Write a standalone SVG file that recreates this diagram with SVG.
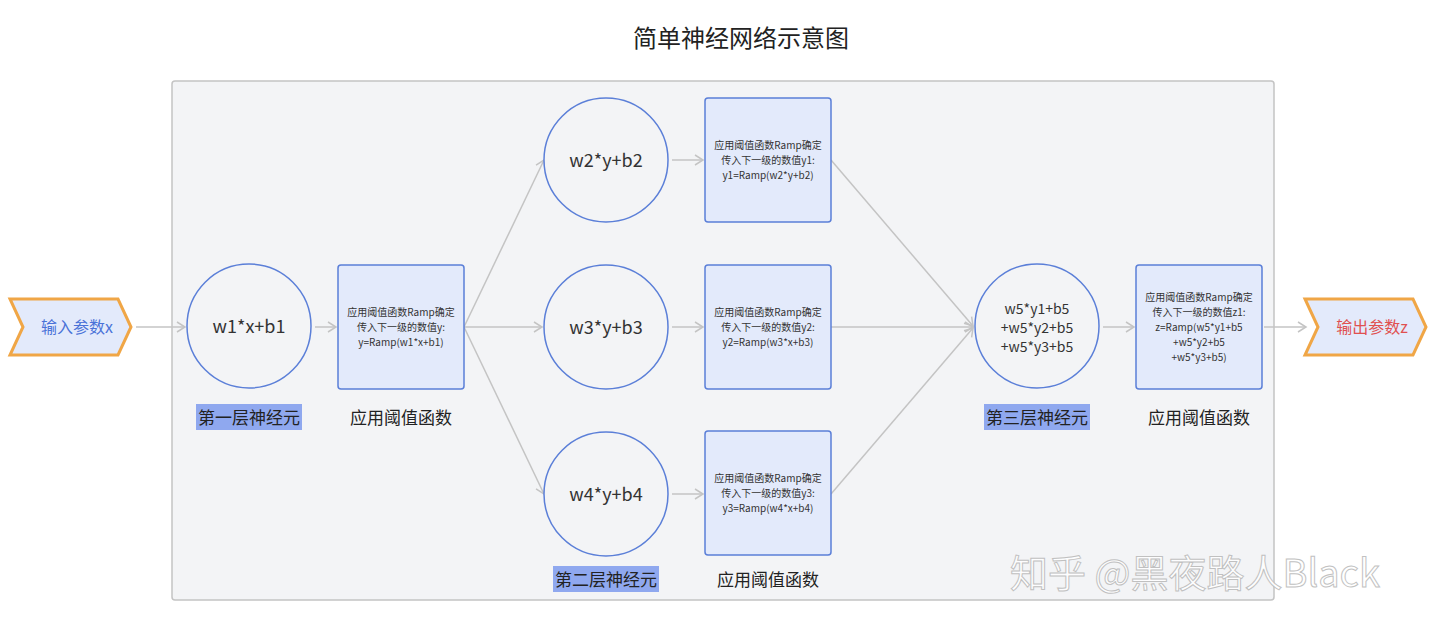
<svg xmlns="http://www.w3.org/2000/svg" width="1440" height="632" viewBox="0 0 1440 632">
<style>
text{font-family:"Noto Sans CJK SC","Noto Sans",sans-serif;}
.c{fill:#f3f4f6;stroke:#5b7fd8;stroke-width:1.5}
.b{fill:#e3eafb;stroke:#5b7fd8;stroke-width:1.5}
.bt{font-size:10px;fill:#333;text-anchor:middle}
.ct{font-size:18px;fill:#333;text-anchor:middle}
.lb{font-size:17px;fill:#222;text-anchor:middle}
.hl{fill:#8fa8ef}
.e{stroke:#c4c4c4;stroke-width:1.5;fill:none;marker-end:url(#a)}
.io{fill:#e3eafb;stroke:#f0a646;stroke-width:3;stroke-linejoin:miter}
</style>
<defs><marker id="a" markerWidth="12" markerHeight="12" refX="10" refY="6" orient="auto" markerUnits="userSpaceOnUse"><path d="M2,1 L10,6 L2,11" fill="none" stroke="#c4c4c4" stroke-width="1.5"/></marker></defs>
<rect width="1440" height="632" fill="#fff"/>
<text x="741" y="47" font-size="24" fill="#222" text-anchor="middle">简单神经网络示意图</text>
<rect x="172" y="81" width="1102" height="519" rx="3" fill="#f3f4f6" stroke="#c4c4c4" stroke-width="1.5"/>
<g id="connectors">
<path class="e" d="M136,327 H185"/>
<path class="e" d="M315,327 H336"/>
<path class="e" d="M464,327 L544,160"/>
<path class="e" d="M464,327 H542"/>
<path class="e" d="M464,327 L544,494"/>
<path class="e" d="M672,160 H703"/>
<path class="e" d="M672,327 H703"/>
<path class="e" d="M672,494 H703"/>
<path class="e" d="M831,160 L973,326"/>
<path class="e" d="M831,327 H973"/>
<path class="e" d="M831,494 L973,328"/>
<path class="e" d="M1103,327 H1134"/>
<path class="e" d="M1264,327 H1306"/>
</g>
<g id="input"><path class="io" d="M10,299 H118 L131,327 L118,355 H10 L23,327 Z"/><text x="77" y="333" font-size="16" fill="#4a72d8" text-anchor="middle">输入参数x</text></g>
<g id="output"><path class="io" d="M1305,299 H1413 L1426,327 L1413,355 H1305 L1318,327 Z"/><text x="1372" y="333" font-size="16" fill="#e05050" text-anchor="middle">输出参数z</text></g>
<g id="n1"><circle class="c" cx="249" cy="326" r="62"/><text class="ct" x="249" y="333">w1*x+b1</text></g>
<g id="l1"><rect class="hl" x="196" y="404" width="106" height="26"/><text class="lb" x="249" y="424">第一层神经元</text></g>
<g id="f1"><rect class="b" x="338" y="265" width="126" height="124" rx="3"/><text class="bt" x="401" y="316">应用阈值函数Ramp确定</text><text class="bt" x="401" y="331">传入下一级的数值y:</text><text class="bt" x="401" y="346">y=Ramp(w1*x+b1)</text></g>
<text class="lb" x="401" y="424">应用阈值函数</text>
<g id="n2"><circle class="c" cx="606" cy="160" r="62"/><text class="ct" x="606" y="167">w2*y+b2</text></g>
<g id="n3"><circle class="c" cx="606" cy="327" r="62"/><text class="ct" x="606" y="334">w3*y+b3</text></g>
<g id="n4"><circle class="c" cx="606" cy="494" r="62"/><text class="ct" x="606" y="501">w4*y+b4</text></g>
<g id="l2"><rect class="hl" x="553" y="566" width="106" height="26"/><text class="lb" x="606" y="586">第二层神经元</text></g>
<g id="f2"><rect class="b" x="705" y="98" width="126" height="124" rx="3"/><text class="bt" x="768" y="149">应用阈值函数Ramp确定</text><text class="bt" x="768" y="164">传入下一级的数值y1:</text><text class="bt" x="768" y="179">y1=Ramp(w2*y+b2)</text></g>
<g id="f3"><rect class="b" x="705" y="265" width="126" height="124" rx="3"/><text class="bt" x="768" y="316">应用阈值函数Ramp确定</text><text class="bt" x="768" y="331">传入下一级的数值y2:</text><text class="bt" x="768" y="346">y2=Ramp(w3*x+b3)</text></g>
<g id="f4"><rect class="b" x="705" y="431" width="126" height="124" rx="3"/><text class="bt" x="768" y="482">应用阈值函数Ramp确定</text><text class="bt" x="768" y="497">传入下一级的数值y3:</text><text class="bt" x="768" y="512">y3=Ramp(w4*x+b4)</text></g>
<text class="lb" x="768" y="586">应用阈值函数</text>
<g id="n5"><circle class="c" cx="1037" cy="326" r="62"/><text x="1037" y="314" font-size="14" fill="#333" text-anchor="middle">w5*y1+b5</text><text x="1037" y="333" font-size="14" fill="#333" text-anchor="middle">+w5*y2+b5</text><text x="1037" y="352" font-size="14" fill="#333" text-anchor="middle">+w5*y3+b5</text></g>
<g id="l3"><rect class="hl" x="984" y="404" width="106" height="26"/><text class="lb" x="1037" y="424">第三层神经元</text></g>
<g id="f5"><rect class="b" x="1136" y="265" width="126" height="124" rx="3"/><text class="bt" x="1199" y="301">应用阈值函数Ramp确定</text><text class="bt" x="1199" y="316">传入下一级的数值z1:</text><text class="bt" x="1199" y="331">z=Ramp(w5*y1+b5</text><text class="bt" x="1199" y="346">+w5*y2+b5</text><text class="bt" x="1199" y="361">+w5*y3+b5)</text></g>
<text class="lb" x="1199" y="424">应用阈值函数</text>
<text x="1195" y="587" font-size="38" fill="#fff" stroke="#bbb" stroke-width="1" text-anchor="middle" opacity="0.9">知乎 @黑夜路人Black</text>
</svg>
